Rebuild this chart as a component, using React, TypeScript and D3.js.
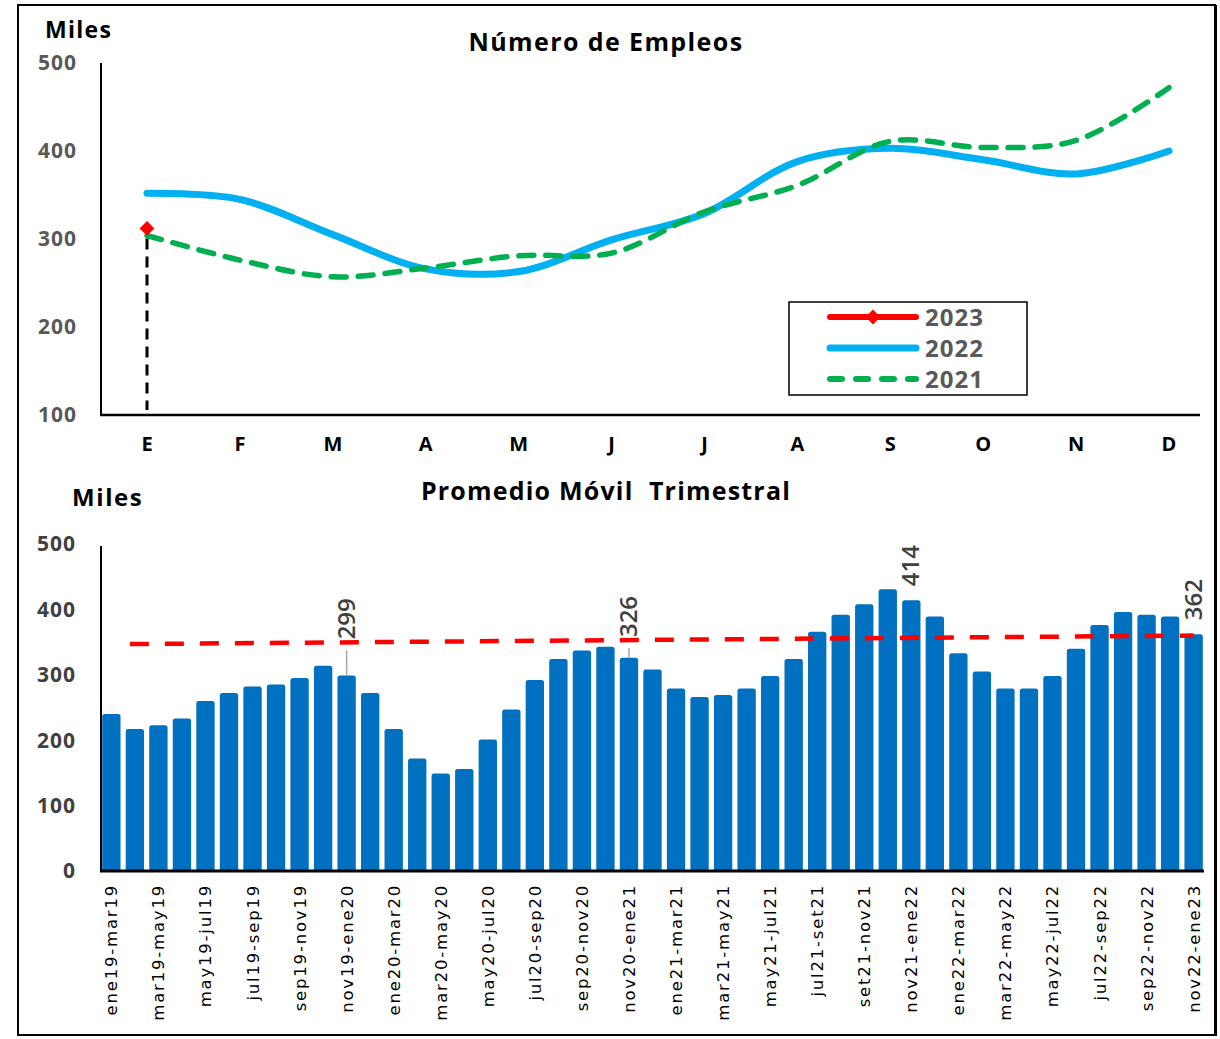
import React, { useEffect, useRef } from "react";
import * as d3 from "d3";

// top chart: monthly jobs (miles)
const months = ["E", "F", "M", "A", "M2", "J", "J2", "A2", "S", "O", "N", "D"];
const monthLabels = ["E", "F", "M", "A", "M", "J", "J", "A", "S", "O", "N", "D"];
const serie2023 = [312];
const serie2022 = [352, 345, 305, 266, 263, 299, 329, 388, 403, 390, 374, 400];
const serie2021 = [304, 276, 257, 267, 281, 284, 331, 361, 411, 404, 412, 472];
const topTicks = [100, 200, 300, 400, 500];

// bottom chart: promedio movil trimestral
const periods = [
  "ene19-mar19", "feb19-abr19", "mar19-may19", "abr19-jun19", "may19-jul19", "jun19-ago19",
  "jul19-sep19", "ago19-oct19", "sep19-nov19", "oct19-dic19", "nov19-ene20", "dic19-feb20",
  "ene20-mar20", "feb20-abr20", "mar20-may20", "abr20-jun20", "may20-jul20", "jun20-ago20",
  "jul20-sep20", "ago20-oct20", "sep20-nov20", "oct20-dic20", "nov20-ene21", "dic20-feb21",
  "ene21-mar21", "feb21-abr21", "mar21-may21", "abr21-jun21", "may21-jul21", "jun21-ago21",
  "jul21-set21", "ago21-oct21", "set21-nov21", "oct21-dic21", "nov21-ene22", "dic21-feb22",
  "ene22-mar22", "feb22-abr22", "mar22-may22", "abr22-jun22", "may22-jul22", "jun22-ago22",
  "jul22-sep22", "ago22-oct22", "sep22-nov22", "oct22-dic22", "nov22-ene23",
];
const movingAvg = [
  240, 217, 223, 233, 260, 272, 282, 285, 295, 314,
  299, 272, 217, 172, 149, 156, 201, 247, 292, 324,
  337, 343, 326, 308, 279, 266, 269, 279, 298, 324,
  366, 392, 408, 431, 414, 389, 333, 305, 279, 279,
  298, 340, 376, 396, 392, 389, 362,
];
const labeledIdx = [10, 22, 34, 46];
const trendFrom = 347;
const trendTo = 360;
const bottomTicks = [0, 100, 200, 300, 400, 500];

const FONT = "'Open Sans', 'DejaVu Sans', sans-serif";

export default function App() {
  const svgRef = useRef<SVGSVGElement | null>(null);

  useEffect(() => {
    const svg = d3.select(svgRef.current);
    svg.selectAll("*").remove();

    //outer frame
    svg.append("rect")
      .attr("x", 18).attr("y", 5).attr("width", 1197).attr("height", 1030)
      .attr("fill", "white").attr("stroke", "black").attr("stroke-width", 2);
    svg.append("line").attr("x1", 1216).attr("x2", 1216).attr("y1", 5).attr("y2", 1036)
      .attr("stroke", "black").attr("stroke-width", 2);

    // ---------- top chart ----------
    const x = d3.scalePoint<string>().domain(months).range([147, 1169]);
    const y = d3.scaleLinear().domain([100, 500]).range([415, 63]);

    svg.append("text").attr("x", 45).attr("y", 38).text("Miles")
      .attr("font-family", FONT).attr("font-weight", 700).attr("font-size", 23)
      .attr("letter-spacing", 1.3);
    svg.append("text").attr("x", 606).attr("y", 51).attr("text-anchor", "middle")
      .text("Número de Empleos")
      .attr("font-family", FONT).attr("font-weight", 700).attr("font-size", 25)
      .attr("letter-spacing", 1.4);

    //y tick labels
    svg.append("g").selectAll("text").data(topTicks).join("text")
      .attr("x", 77).attr("y", (d) => y(d)).attr("dy", "0.35em")
      .attr("text-anchor", "end").text((d) => d)
      .attr("font-family", FONT).attr("font-weight", 700).attr("font-size", 21)
      .attr("letter-spacing", 1).attr("fill", "#595959");

    //month labels
    svg.append("g").selectAll("text").data(months).join("text")
      .attr("x", (d) => x(d)!).attr("y", 451).attr("text-anchor", "middle")
      .text((d, i) => monthLabels[i])
      .attr("font-family", FONT).attr("font-weight", 700).attr("font-size", 20);

    //axes lines
    svg.append("line").attr("x1", 101).attr("x2", 101).attr("y1", 63).attr("y2", 416)
      .attr("stroke", "black").attr("stroke-width", 2);
    svg.append("line").attr("x1", 100).attr("x2", 1200).attr("y1", 415).attr("y2", 415)
      .attr("stroke", "black").attr("stroke-width", 2.5);

    const line = d3.line<number>()
      .x((d, i) => x(months[i])!)
      .y((d) => y(d))
      .curve(d3.curveCatmullRom.alpha(0.5));

    //vertical reference line at E
    svg.append("line")
      .attr("x1", x("E")!).attr("x2", x("E")!)
      .attr("y1", y(serie2023[0]) + 10).attr("y2", 410)
      .attr("stroke", "black").attr("stroke-width", 3).attr("stroke-dasharray", "11,7");

    svg.append("path").datum(serie2022).attr("d", line)
      .attr("fill", "none").attr("stroke", "#00B0F0").attr("stroke-width", 7)
      .attr("stroke-linecap", "round");
    svg.append("path").datum(serie2021).attr("d", line)
      .attr("fill", "none").attr("stroke", "#00B050").attr("stroke-width", 5.5)
      .attr("stroke-dasharray", "15,12").attr("stroke-linecap", "round");

    const diamond = d3.symbol().type(d3.symbolSquare).size(110);
    svg.append("g").selectAll("path").data(serie2023).join("path")
      .attr("d", diamond)
      .attr("transform", (d, i) => `translate(${x(months[i])},${y(d)}) rotate(45)`)
      .attr("fill", "#FF0000");

    //legend
    const lg = svg.append("g");
    lg.append("rect").attr("x", 789).attr("y", 302).attr("width", 238).attr("height", 93)
      .attr("fill", "white").attr("stroke", "black").attr("stroke-width", 1.5);
    const legendItems = [
      { name: "2023", color: "#FF0000", dash: null, w: 6 },
      { name: "2022", color: "#00B0F0", dash: null, w: 7 },
      { name: "2021", color: "#00B050", dash: "12,14", w: 6 },
    ];
    legendItems.forEach((it, i) => {
      const ly = 317 + i * 31;
      lg.append("line").attr("x1", 830).attr("x2", 916).attr("y1", ly).attr("y2", ly)
        .attr("stroke", it.color).attr("stroke-width", it.w).attr("stroke-linecap", "round")
        .attr("stroke-dasharray", it.dash);
      if (i === 0) {
        lg.append("path").attr("d", diamond)
          .attr("transform", `translate(873,${ly}) rotate(45)`).attr("fill", it.color);
      }
      lg.append("text").attr("x", 925).attr("y", ly).attr("dy", "0.36em").text(it.name)
        .attr("font-family", FONT).attr("font-weight", 700).attr("font-size", 24)
        .attr("letter-spacing", 1).attr("fill", "#595959");
    });

    // ---------- bottom chart ----------
    const xb = d3.scaleBand<string>().domain(periods).range([101, 1204])
      .paddingInner(0.22).paddingOuter(0.05);
    const yb = d3.scaleLinear().domain([0, 500]).range([871, 544]);

    svg.append("text").attr("x", 72).attr("y", 506).text("Miles")
      .attr("font-family", FONT).attr("font-weight", 700).attr("font-size", 24)
      .attr("letter-spacing", 1.6);
    svg.append("text").attr("x", 606).attr("y", 500).attr("text-anchor", "middle")
      .text("Promedio Móvil  Trimestral")
      .style("white-space", "pre")
      .attr("font-family", FONT).attr("font-weight", 700).attr("font-size", 25)
      .attr("letter-spacing", 1.2);

    svg.append("g").selectAll("text").data(bottomTicks).join("text")
      .attr("x", 76).attr("y", (d) => yb(d)).attr("dy", "0.35em")
      .attr("text-anchor", "end").text((d) => d)
      .attr("font-family", FONT).attr("font-weight", 700).attr("font-size", 21)
      .attr("letter-spacing", 1).attr("fill", "#404040");

    //bars
    svg.append("g").selectAll("path").data(movingAvg).join("path")
      .attr("d", (d, i) => {
        const x0 = xb(periods[i])!;
        const w = xb.bandwidth();
        const t = yb(d);
        const b = yb(0);
        const r = 2.5;
        return `M${x0},${b}V${t + r}Q${x0},${t} ${x0 + r},${t}H${x0 + w - r}Q${x0 + w},${t} ${x0 + w},${t + r}V${b}Z`;
      })
      .attr("fill", "#0070C0");

    //trend line
    const trendY = d3.scaleLinear()
      .domain([1, periods.length - 1]).range([trendFrom, trendTo]);
    const c = (i: number) => xb(periods[i])! + xb.bandwidth() / 2;
    svg.append("line")
      .attr("x1", c(1) - 5).attr("x2", c(periods.length - 1))
      .attr("y1", yb(trendFrom)).attr("y2", yb(trendTo))
      .attr("stroke", "#FF0000").attr("stroke-width", 4.5).attr("stroke-dasharray", "19,16");

    //data labels
    labeledIdx.forEach((i) => {
      const v = movingAvg[i];
      const top = yb(v);
      const tr = yb(trendY(i));
      let base = top - 14;
      if (tr < top - 3) {
        base = tr - 3;
        svg.append("line").attr("x1", c(i)).attr("x2", c(i))
          .attr("y1", top).attr("y2", tr + 8)
          .attr("stroke", "#A6A6A6").attr("stroke-width", 1.5);
      }
      svg.append("text")
        .attr("transform", `translate(${c(i) + 8},${base}) rotate(-90)`)
        .text(v)
        .attr("font-family", FONT).attr("font-weight", 600).attr("font-size", 24)
        .attr("fill", "#404040");
    });

    //axes lines
    svg.append("line").attr("x1", 101).attr("x2", 101).attr("y1", 546).attr("y2", 872)
      .attr("stroke", "black").attr("stroke-width", 2);
    svg.append("line").attr("x1", 100).attr("x2", 1204).attr("y1", 871).attr("y2", 871)
      .attr("stroke", "black").attr("stroke-width", 3);

    //category labels every other bar
    svg.append("g").selectAll("text")
      .data(periods.filter((p, i) => i % 2 === 0)).join("text")
      .attr("transform", (d) => `translate(${xb(d)! + xb.bandwidth() / 2 + 6},884) rotate(-90)`)
      .attr("text-anchor", "end").text((d) => d)
      .attr("font-family", "'DejaVu Sans', sans-serif").attr("font-size", 16.5)
      .attr("letter-spacing", 1.8).attr("fill", "black");
  }, []);

  return (
    <div>
      {/*chart*/}
      <svg ref={svgRef} width={1220} height={1039}
        style={{ position: "absolute", left: 0, top: 0 }}></svg>
    </div>
  );
}
